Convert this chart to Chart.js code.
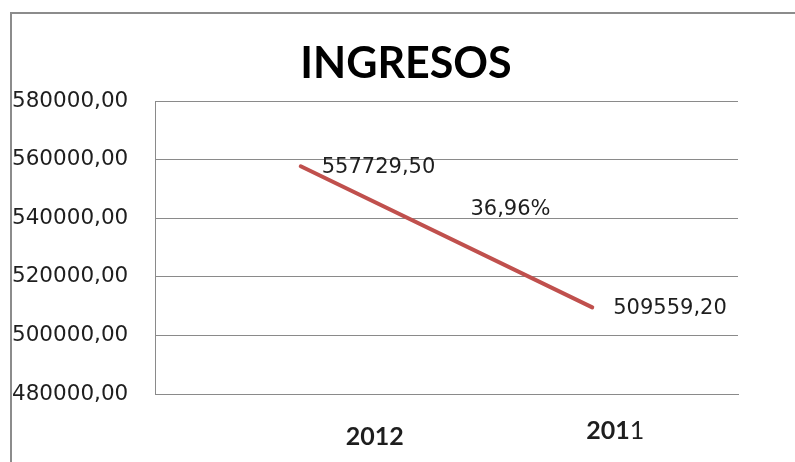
<!DOCTYPE html>
<html>
<head>
<meta charset="utf-8">
<script src="https://cdn.jsdelivr.net/npm/chart.js@4/dist/chart.umd.min.js"></script>
<style>
  html, body { margin: 0; padding: 0; background: #ffffff; overflow: hidden; }
  #wrap { position: relative; width: 795px; height: 462px; overflow: hidden; }
  #frame { position: absolute; left: 10px; top: 12px; width: 900px; height: 600px; border: 2px solid #8c8c8c; box-sizing: border-box; }
  #c { position: absolute; left: 0; top: 0; }
</style>
</head>
<body>
<div id="wrap">
  <div id="frame"></div>
  <canvas id="c" width="795" height="462"></canvas>
</div>
<script>
// ---- data ----
const chartTitle = 'INGRESOS';
const categories = ['2012', '2011'];
const ingresos = [557729.50, 509559.20];
const pointLabels = ['557729,50', '509559,20'];
const changeLabel = '36,96%';
const yMin = 480000;
const yMax = 580000;
const yStep = 20000;

// ---- styling ----
const lineColor = '#C0504D';
const gridColor = '#8a8a8a';
const textColor = '#1e1e1e';
const labelFont = '21px "DejaVu Sans", sans-serif';

const fmt = v => v.toFixed(2).replace('.', ',');

const textPlugin = {
  id: 'textPlugin',
  afterDatasetsDraw(chart) {
    const ctx = chart.ctx;
    const meta = chart.getDatasetMeta(0);
    const x = chart.scales.x;
    ctx.save();
    // title
    ctx.font = 'bold 43px Lato, sans-serif';
    ctx.fillStyle = '#000000';
    ctx.textAlign = 'center';
    ctx.textBaseline = 'middle';
    ctx.fillText(chartTitle, 406, 64);

    // point value labels
    ctx.font = labelFont;
    ctx.fillStyle = textColor;
    ctx.textAlign = 'left';
    ctx.textBaseline = 'middle';
    meta.data.forEach((pt, i) => {
      ctx.fillText(pointLabels[i], pt.x + 21, pt.y + 1);
    });
    // change label between the two points
    const p0 = meta.data[0], p1 = meta.data[1];
    const mx = (p0.x + p1.x) / 2, my = (p0.y + p1.y) / 2;
    ctx.textAlign = 'center';
    ctx.fillText(changeLabel, mx + 64, my - 27);

    // category labels
    const offsets = [{dx: 74, dy: 43}, {dx: 23, dy: 37}];
    ctx.textBaseline = 'middle';
    categories.forEach((cat, i) => {
      const cx = x.getPixelForTick(i) + offsets[i].dx;
      const cy = chart.chartArea.bottom + offsets[i].dy;
      if (i === 1) {
        // "201" bold + "1" regular
        const boldPart = cat.slice(0, 3), regPart = cat.slice(3);
        ctx.font = 'bold 25px Lato, sans-serif';
        const wb = ctx.measureText(boldPart).width;
        ctx.font = '25px Lato, sans-serif';
        const wr = ctx.measureText(regPart).width;
        const start = cx - (wb + wr) / 2;
        ctx.textAlign = 'left';
        ctx.font = 'bold 25px Lato, sans-serif';
        ctx.fillText(boldPart, start, cy);
        ctx.font = '25px Lato, sans-serif';
        ctx.fillText(regPart, start + wb, cy);
      } else {
        ctx.font = 'bold 25px Lato, sans-serif';
        ctx.textAlign = 'center';
        ctx.fillText(cat, cx, cy);
      }
    });
    ctx.restore();
  }
};

new Chart(document.getElementById('c'), {
  type: 'line',
  data: {
    labels: categories,
    datasets: [{
      data: ingresos,
      borderColor: lineColor,
      borderWidth: 4,
      borderCapStyle: 'round',
      pointRadius: 0,
      pointHoverRadius: 0,
      tension: 0,
      fill: false
    }]
  },
  options: {
    responsive: false,
    animation: false,
    events: [],
    layout: { padding: { left: 12, right: 57, top: 101, bottom: 68 } },
    plugins: {
      legend: { display: false },
      tooltip: { enabled: false },
      title: { display: false }
    },
    scales: {
      x: {
        type: 'category',
        offset: true,
        grid: { display: false, drawTicks: false },
        border: { display: true, color: gridColor, width: 1 },
        ticks: { display: false }
      },
      y: {
        min: yMin,
        max: yMax,
        afterFit(scale) { scale.width = 143; },
        grid: { color: gridColor, lineWidth: 1, drawTicks: false },
        border: { display: true, color: gridColor, width: 1 },
        ticks: {
          stepSize: yStep,
          crossAlign: 'far',
          padding: 0,
          color: textColor,
          font: { family: '"DejaVu Sans", sans-serif', size: 21.5 },
          callback: v => fmt(v)
        }
      }
    }
  },
  plugins: [textPlugin]
});
</script>
</body>
</html>
